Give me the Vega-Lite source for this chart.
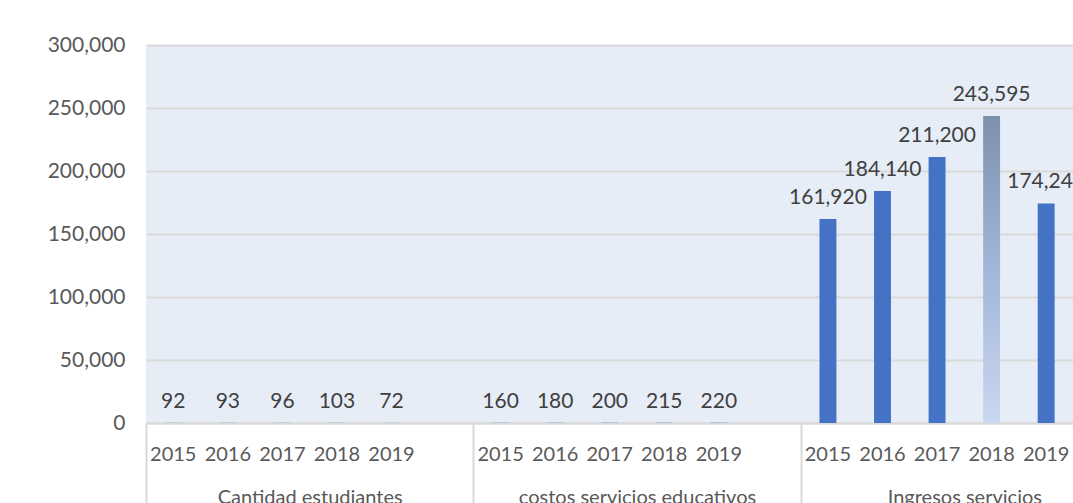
{
  "$schema": "https://vega.github.io/schema/vega-lite/v6.json",
  "autosize": "none",
  "width": 927,
  "height": 378,
  "padding": {"left": 146, "top": 45, "right": 0, "bottom": 80},
  "background": "white",
  "config": {
    "view": {"fill": "#e6edf7", "stroke": null},
    "font": "Lato"
  },
  "layer": [
    {
      "data": {
        "values": [
          {"group": "Cantidad estudiantes", "year": "2015", "value": 92},
          {"group": "Cantidad estudiantes", "year": "2016", "value": 93},
          {"group": "Cantidad estudiantes", "year": "2017", "value": 96},
          {"group": "Cantidad estudiantes", "year": "2018", "value": 103},
          {"group": "Cantidad estudiantes", "year": "2019", "value": 72},
          {"group": "costos servicios educativos", "year": "2015", "value": 160},
          {"group": "costos servicios educativos", "year": "2016", "value": 180},
          {"group": "costos servicios educativos", "year": "2017", "value": 200},
          {"group": "costos servicios educativos", "year": "2018", "value": 215},
          {"group": "costos servicios educativos", "year": "2019", "value": 220},
          {"group": "Ingresos servicios", "year": "2015", "value": 161920},
          {"group": "Ingresos servicios", "year": "2016", "value": 184140},
          {"group": "Ingresos servicios", "year": "2017", "value": 211200},
          {"group": "Ingresos servicios", "year": "2018", "value": 243595},
          {"group": "Ingresos servicios", "year": "2019", "value": 174240}
        ]
      },
      "transform": [{"calculate": "datum.group + '|' + datum.year", "as": "key"}],
      "encoding": {
        "x": {
          "field": "key",
          "type": "nominal",
          "sort": null,
          "scale": {
            "domain": [
              "Cantidad estudiantes|2015", "Cantidad estudiantes|2016", "Cantidad estudiantes|2017", "Cantidad estudiantes|2018", "Cantidad estudiantes|2019", "Cantidad estudiantes|",
              "costos servicios educativos|2015", "costos servicios educativos|2016", "costos servicios educativos|2017", "costos servicios educativos|2018", "costos servicios educativos|2019", "costos servicios educativos|",
              "Ingresos servicios|2015", "Ingresos servicios|2016", "Ingresos servicios|2017", "Ingresos servicios|2018", "Ingresos servicios|2019", "Ingresos servicios|"
            ],
            "range": [0, 982],
            "paddingInner": 0.69,
            "paddingOuter": 0.345
          },
          "axis": {
            "title": null,
            "orient": "bottom",
            "ticks": false,
            "tickSize": 0,
            "domain": true,
            "domainColor": "#d9d9d9",
            "domainWidth": 2,
            "labelExpr": "split(datum.value, '|')[1]",
            "labelAngle": 0,
            "labelFont": "Lato",
            "labelFontSize": 20,
            "labelColor": "#595959",
            "labelBaseline": "alphabetic",
            "labelPadding": 37,
            "labelOverlap": false,
            "labelBound": false
          }
        },
        "y": {
          "field": "value",
          "type": "quantitative",
          "scale": {"domain": [0, 300000], "nice": false},
          "axis": {
            "title": null,
            "values": [0, 50000, 100000, 150000, 200000, 250000, 300000],
            "format": ",d",
            "grid": true,
            "gridColor": "#d9d9d9",
            "gridWidth": 2,
            "domain": false,
            "ticks": false,
            "labelPadding": 21,
            "labelFont": "Lato",
            "labelFontSize": 21,
            "labelColor": "#595959"
          }
        }
      },
      "layer": [
        {
          "mark": {"type": "bar"},
          "encoding": {
            "fill": {
              "condition": {
                "test": "datum.group == 'Ingresos servicios' && datum.year == '2018'",
                "value": {
                  "gradient": "linear", "x1": 0, "y1": 0, "x2": 0, "y2": 1,
                  "stops": [
                    {"offset": 0, "color": "#7d8fab"},
                    {"offset": 0.5, "color": "#a3b6d9"},
                    {"offset": 1, "color": "#c9d7f0"}
                  ]
                }
              },
              "value": "#4472c4"
            }
          }
        },
        {
          "mark": {"type": "text", "baseline": "alphabetic", "dy": -15, "fontSize": 21, "font": "Lato", "color": "#404040"},
          "encoding": {
            "text": {"field": "value", "type": "quantitative", "format": ",d"}
          }
        }
      ]
    },
    {
      "data": {
        "values": [
          {"group": "Cantidad estudiantes"},
          {"group": "costos servicios educativos"},
          {"group": "Ingresos servicios"}
        ]
      },
      "mark": {"type": "text"},
      "encoding": {
        "text": {"value": ""},
        "x": {
          "field": "group",
          "type": "nominal",
          "sort": null,
          "scale": {
            "domain": ["Cantidad estudiantes", "costos servicios educativos", "Ingresos servicios"],
            "range": [0, 982],
            "paddingInner": 0,
            "paddingOuter": 0
          },
          "axis": {
            "title": null,
            "orient": "bottom",
            "domain": false,
            "ticks": true,
            "tickBand": "extent",
            "tickSize": 80,
            "tickColor": "#d9d9d9",
            "tickWidth": 2,
            "labelAngle": 0,
            "labelPadding": 0,
            "labelBaseline": "alphabetic",
            "labelFont": "Lato",
            "labelFontSize": 20,
            "labelColor": "#595959",
            "labelLimit": 0,
            "labelOverlap": false,
            "labelBound": false
          }
        }
      }
    }
  ],
  "resolve": {"scale": {"x": "independent"}, "axis": {"x": "independent"}}
}
